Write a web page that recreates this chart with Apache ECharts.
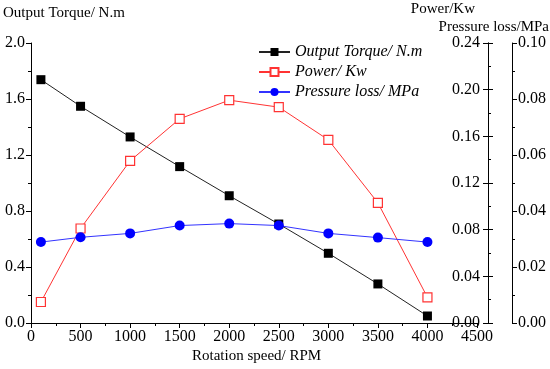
<!DOCTYPE html>
<html><head><meta charset="utf-8">
<script src="https://cdn.jsdelivr.net/npm/echarts@6/dist/echarts.min.js"></script>
<style>html,body{margin:0;padding:0;background:#fff}#c{width:550px;height:369px}</style>
</head><body><div id="c"></div>
<script>
var rpm = [100, 500, 1000, 1500, 2000, 2500, 3000, 3500, 4000];
var torque = [1.738, 1.548, 1.329, 1.117, 0.909, 0.707, 0.498, 0.279, 0.05];
var power = [0.018, 0.081, 0.139, 0.175, 0.191, 0.185, 0.157, 0.103, 0.022];
var pressure = [0.0289, 0.0306, 0.032, 0.0348, 0.0355, 0.0348, 0.032, 0.0305, 0.0289];
var xTicks = {min: 0, max: 4500, interval: 500};
var torqueTicks = {min: 0, max: 2.0, interval: 0.4};
var powerTicks = {min: 0, max: 0.24, interval: 0.04};
var pressureTicks = {min: 0, max: 0.10, interval: 0.02};
var names = ['Output Torque/ N.m', 'Power/ Kw', 'Pressure loss/ MPa'];

function pairs(xs, ys){ return xs.map(function(x,i){return [x, ys[i]];}); }
var FONT = 'Liberation Serif';
var lbl = {color:'#000', fontFamily:FONT, fontSize:16};
function yax(o){
  return Object.assign({
    type:'value', splitLine:{show:false},
    axisLine:{show:true, lineStyle:{color:'#000', width:1}},
    axisTick:{show:true, length:5, lineStyle:{color:'#000'}},
    minorTick:{show:true, splitNumber:2, length:3, lineStyle:{color:'#000'}},
    axisLabel:Object.assign({margin:5}, lbl)
  }, o);
}
var chart = echarts.init(document.getElementById('c'));
chart.setOption({
  animation:false,
  backgroundColor:'#fff',
  grid:{left:31, right:73, top:43, bottom:46},
  legend:{
    orient:'vertical', left:253, top:39, itemWidth:31, itemHeight:10, itemGap:4,
    textStyle:{fontFamily:FONT, fontStyle:'italic', fontSize:16, color:'#000', lineHeight:14},
    data:names
  },
  xAxis:{
    type:'value', min:xTicks.min, max:xTicks.max, interval:xTicks.interval,
    splitLine:{show:false},
    axisLine:{lineStyle:{color:'#000', width:1}},
    axisTick:{length:5, lineStyle:{color:'#000'}},
    minorTick:{show:true, splitNumber:2, length:3, lineStyle:{color:'#000'}},
    axisLabel:Object.assign({margin:6, formatter:function(v){return String(v);}}, lbl)
  },
  yAxis:[
    yax({position:'left', min:torqueTicks.min, max:torqueTicks.max, interval:torqueTicks.interval,
      axisLabel:Object.assign({margin:6, formatter:function(v){return v.toFixed(1);}}, lbl)}),
    yax({position:'right', offset:11, min:powerTicks.min, max:powerTicks.max, interval:powerTicks.interval,
      axisLabel:Object.assign({margin:8, inside:true, formatter:function(v){return v.toFixed(2);}}, lbl)}),
    yax({position:'right', offset:35, min:pressureTicks.min, max:pressureTicks.max, interval:pressureTicks.interval,
      axisLabel:Object.assign({margin:6, formatter:function(v){return v.toFixed(2);}}, lbl)}),
    yax({position:'right', offset:11, min:powerTicks.min, max:powerTicks.max, interval:powerTicks.interval,
      axisTick:{show:true, inside:true, length:5, lineStyle:{color:'#000'}},
      minorTick:{show:false}, axisLabel:{show:false}})
  ],
  graphic:[
    {type:'text', left:3, top:6, style:{text:'Output Torque/ N.m', font:'15px "Liberation Serif"', fill:'#000'}},
    {type:'text', right:75, top:2, style:{text:'Power/Kw', font:'15px "Liberation Serif"', fill:'#000'}},
    {type:'text', right:1, top:20, style:{text:'Pressure loss/MPa', font:'15px "Liberation Serif"', fill:'#000'}},
    {type:'text', left:192, top:349, style:{text:'Rotation speed/ RPM', font:'15px "Liberation Serif"', fill:'#000'}}
  ],
  series:[
    {name:names[0], type:'line', yAxisIndex:0, data:pairs(rpm, torque),
      symbol:'rect', symbolSize:9, itemStyle:{color:'#000'}, lineStyle:{color:'#222', width:1}},
    {name:names[1], type:'line', yAxisIndex:1, data:pairs(rpm, power),
      symbol:'rect', symbolSize:9, itemStyle:{color:'#fff', borderColor:'#ff3333', borderWidth:1.2},
      lineStyle:{color:'#ff3333', width:1}},
    {name:names[2], type:'line', yAxisIndex:2, data:pairs(rpm, pressure),
      symbol:'circle', symbolSize:10, itemStyle:{color:'#0000ff'}, lineStyle:{color:'#3333ff', width:1}}
  ]
});
</script></body></html>
